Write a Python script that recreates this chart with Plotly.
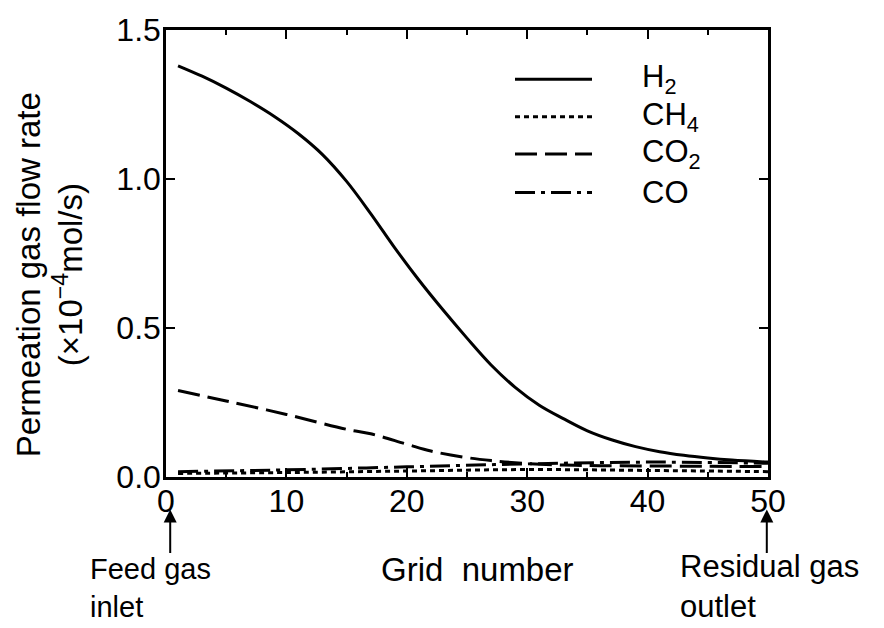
import plotly.graph_objects as go

# Grid positions along the membrane module and permeation flow per species (x10^-4 mol/s)
h2_grid = [1, 3, 5, 7, 9, 11, 13, 15, 17, 19, 21, 23, 25, 27, 29, 31, 33, 35, 37, 39, 41, 43, 45, 47, 50]
h2_flow = [1.38, 1.345, 1.305, 1.26, 1.21, 1.152, 1.082, 0.992, 0.884, 0.769, 0.661, 0.561, 0.466,
           0.376, 0.301, 0.241, 0.196, 0.155, 0.125, 0.102, 0.085, 0.073, 0.064, 0.057, 0.05]

co2_grid = [1, 5, 10, 15, 17, 20, 22, 25, 27, 30, 33, 36, 40, 45, 50]
co2_flow = [0.29, 0.255, 0.21, 0.16, 0.145, 0.11, 0.087, 0.065, 0.055, 0.045, 0.04, 0.038, 0.037, 0.036, 0.035]

ch4_grid = [1, 10, 20, 30, 40, 50]
ch4_flow = [0.012, 0.015, 0.02, 0.025, 0.022, 0.018]

co_grid = [1, 10, 20, 30, 40, 50]
co_flow = [0.018, 0.024, 0.034, 0.044, 0.05, 0.046]

x_ticks = [0, 10, 20, 30, 40, 50]
y_ticks = [0.0, 0.5, 1.0, 1.5]
y_tick_text = ["0.0", "0.5", "1.0", "1.5"]

species = [
    ("H<sub>2</sub>", h2_grid, h2_flow, "solid"),
    ("CH<sub>4</sub>", ch4_grid, ch4_flow, "5px,4px"),
    ("CO<sub>2</sub>", co2_grid, co2_flow, "22px,8px"),
    ("CO", co_grid, co_flow, "20px,6px,4px,6px"),
]

FONT = "Liberation Sans, Arial, Helvetica, sans-serif"

fig = go.Figure()
for name, gx, gy, dash in species:
    fig.add_trace(go.Scatter(
        x=gx, y=gy, mode="lines", name=name,
        line=dict(color="black", width=3, dash=dash, shape="spline", smoothing=1.0),
        showlegend=False,
    ))

# Plot-area geometry in pixels, used to place the hand-built legend and notes
W, H = 884, 628
L, R, T, B = 166, 116, 23, 151
pw, ph = W - L - R, H - T - B


def px(xp):
    return (xp - L) / pw


def py(yp):
    return (H - B - yp) / ph


def label(text, x, y, size, xanchor="left", angle=0):
    return dict(xref="paper", yref="paper", x=px(x), y=py(y), xanchor=xanchor,
                yanchor="middle", showarrow=False, text=text, textangle=angle, align="left",
                font=dict(size=size, color="black", family=FONT))


shapes = []
annotations = []
legend_rows = [73, 111, 149, 188]
for (name, _, _, dash), row in zip(species, legend_rows):
    shapes.append(dict(type="line", xref="paper", yref="paper",
                       x0=px(515), x1=px(592), y0=py(row), y1=py(row),
                       line=dict(color="black", width=3, dash=dash)))
    annotations.append(label(name, 640, row, 31))

# Axis titles
annotations.append(label("Grid\u00a0 number", 477, 571, 33, xanchor="center"))
annotations.append(label("Permeation gas flow rate", 28, 272, 33, xanchor="center", angle=-90))
annotations.append(label("(×10<sup>−4</sup>mol/s)", 68, 272, 33, xanchor="center", angle=-90))

# Inlet / outlet notes with arrows
annotations.append(label("Feed gas<br>inlet", 88, 590, 29))
annotations.append(label("Residual gas<br>outlet", 678, 588, 31))
for ax_x in (0.35, 49.9):
    annotations.append(dict(xref="x", yref="paper", x=ax_x, y=py(510),
                            ax=0, ay=45, text="", showarrow=True,
                            arrowhead=2, arrowsize=1.3, arrowwidth=2, arrowcolor="black"))

fig.update_layout(
    width=W, height=H,
    margin=dict(l=L, r=R, t=T, b=B, pad=0),
    paper_bgcolor="white", plot_bgcolor="white",
    font=dict(family=FONT, size=32, color="black"),
    shapes=shapes, annotations=annotations,
)
fig.update_xaxes(
    range=[0, 50], tickvals=x_ticks, ticks="inside", ticklen=9, tickwidth=2,
    tickcolor="black", showline=True, linewidth=2.5, linecolor="black", mirror="ticks",
    showgrid=False, zeroline=False, tickfont=dict(size=32), ticklabelstandoff=-6,
    minor=dict(dtick=5, ticks="inside", ticklen=5, tickwidth=2, tickcolor="black"),
)
fig.update_yaxes(
    range=[0, 1.5], tickvals=y_ticks, ticktext=y_tick_text, ticks="inside", ticklen=9,
    tickwidth=2, tickcolor="black", showline=True, linewidth=2.5, linecolor="black",
    mirror="ticks", showgrid=False, zeroline=False, tickfont=dict(size=32),
    ticklabelstandoff=-4,
)

fig.write_html("out.html")
